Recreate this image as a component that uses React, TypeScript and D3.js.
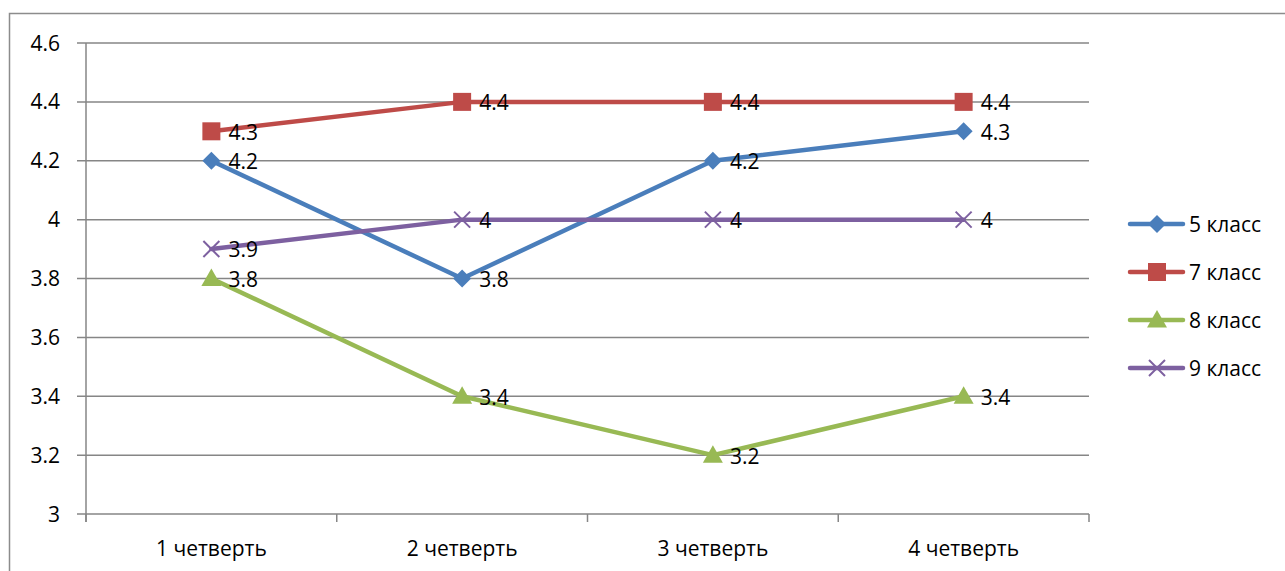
import React from "react";
import * as d3 from "d3";

const categories = ["1 четверть", "2 четверть", "3 четверть", "4 четверть"];
const seriesNames = ["5 класс", "7 класс", "8 класс", "9 класс"];
const class5 = [4.2, 3.8, 4.2, 4.3];
const class7 = [4.3, 4.4, 4.4, 4.4];
const class8 = [3.8, 3.4, 3.2, 3.4];
const class9 = [3.9, 4.0, 4.0, 4.0];
const yTicks = [3, 3.2, 3.4, 3.6, 3.8, 4, 4.2, 4.4, 4.6];
const colors = ["#4A7EBB", "#BE4B48", "#98B954", "#7D60A0"];
const markers = ["diamond", "square", "triangle", "cross"];

const W = 1285, H = 571;
const plot = { left: 86, right: 1089, top: 43, bottom: 514 };
const FONT = "'Open Sans', Lato, sans-serif";
const FS = 21;

function Marker({ type, x, y, color }: { type: string; x: number; y: number; color: string }) {
  if (type === "diamond") {
    const s = 9;
    return <path d={`M${x},${y - s}L${x + s},${y}L${x},${y + s}L${x - s},${y}Z`} fill={color} />;
  }
  if (type === "square") {
    const s = 9;
    return <rect x={x - s} y={y - s} width={2 * s} height={2 * s} fill={color} />;
  }
  if (type === "triangle") {
    const s = 10;
    return <path d={`M${x},${y - s}L${x + s},${y + s * 0.75}L${x - s},${y + s * 0.75}Z`} fill={color} />;
  }
  const s = 8;
  return (
    <path d={`M${x - s},${y - s}L${x + s},${y + s}M${x - s},${y + s}L${x + s},${y - s}`} stroke={color} strokeWidth={2} fill="none" />
  );
}

export default function App() {
  const series = [class5, class7, class8, class9];
  const x = d3.scaleBand<string>().domain(categories).range([plot.left, plot.right]);
  const y = d3.scaleLinear().domain([3, 4.6]).range([plot.bottom, plot.top]);
  const cx = (c: string) => (x(c) as number) + x.bandwidth() / 2;
  const line = d3.line<[number, number]>().x((d) => d[0]).y((d) => d[1]);
  const legendY = d3.scalePoint<string>().domain(seriesNames).range([224, 368]);
  const bounds = categories.map((c) => x(c) as number).concat([plot.right]);

  return (
    <svg width={W} height={H} style={{ position: "absolute", left: 0, top: 0, background: "#fff" }} fontFamily={FONT}>
      <rect x={9.5} y={13.5} width={1300} height={600} fill="none" stroke="#8c8c8c" strokeWidth={1.5} />
      {yTicks.map((t) => (
        <g key={t}>
          <line x1={plot.left - 9} x2={plot.right} y1={y(t)} y2={y(t)} stroke="#868686" strokeWidth={1.5} />
          <text x={60} y={y(t)} dy="0.36em" textAnchor="end" fontSize={FS} fill="#000">
            {d3.format("")(t)}
          </text>
        </g>
      ))}
      <line x1={plot.left} x2={plot.left} y1={plot.top} y2={plot.bottom + 8} stroke="#868686" strokeWidth={1.5} />
      {bounds.map((b, i) => (
        <line key={i} x1={b} x2={b} y1={plot.bottom} y2={plot.bottom + 8} stroke="#868686" strokeWidth={1.5} />
      ))}
      {categories.map((c) => (
        <text key={c} x={cx(c)} y={556} textAnchor="middle" fontSize={FS} fill="#000">
          {c}
        </text>
      ))}
      {series.map((vals, si) => {
        const pts: [number, number][] = vals.map((v, i) => [cx(categories[i]), y(v)]);
        return (
          <g key={si}>
            <path d={line(pts) as string} fill="none" stroke={colors[si]} strokeWidth={4.5} strokeLinejoin="round" strokeLinecap="round" />
            {pts.map((p, i) => (
              <Marker key={i} type={markers[si]} x={p[0]} y={p[1]} color={colors[si]} />
            ))}
            {pts.map((p, i) => (
              <text key={"l" + i} x={p[0] + 17} y={p[1]} dy="0.4em" fontSize={FS} fill="#000">
                {d3.format("")(vals[i])}
              </text>
            ))}
          </g>
        );
      })}
      {seriesNames.map((n, si) => {
        const ly = legendY(n) as number;
        return (
          <g key={n}>
            <line x1={1130} x2={1183} y1={ly} y2={ly} stroke={colors[si]} strokeWidth={4.5} strokeLinecap="round" />
            <Marker type={markers[si]} x={1157} y={ly} color={colors[si]} />
            <text x={1189} y={ly} dy="0.36em" fontSize={FS} fill="#000">
              {n}
            </text>
          </g>
        );
      })}
    </svg>
  );
}
